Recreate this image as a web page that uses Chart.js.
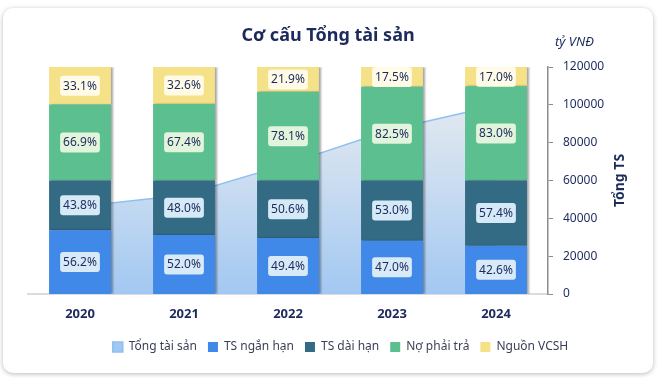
<!DOCTYPE html>
<html lang="vi">
<head>
<meta charset="utf-8">
<title>Cơ cấu Tổng tài sản</title>
<script src="https://cdn.jsdelivr.net/npm/chart.js@4.4.1/dist/chart.umd.min.js"></script>
<style>
  html, body { margin: 0; padding: 0; background: #ffffff; }
  body { width: 662px; height: 378px; position: relative; overflow: hidden;
         font-family: "Noto Sans", "Open Sans", Arial, sans-serif; }
  .card { position: absolute; left: 3px; top: 8px; width: 650px; height: 365px;
          background: #fff; border-radius: 10px; box-shadow: 0 1px 5px rgba(0,0,0,0.28); }
  .title { position: absolute; left: 0; right: 0; top: 14px; text-align: center;
           font-weight: 700; font-size: 18px; color: #1c2a5c; }
  .unit { position: absolute; left: 552px; top: 24px; font-style: italic;
          font-size: 13px; color: #1c2a5c; }
  canvas { position: absolute; left: 0; top: 0; }
</style>
</head>
<body>
<div class="card">
  <canvas id="chart" width="650" height="365"></canvas>
  <div class="title">Cơ cấu Tổng tài sản</div>
  <div class="unit">tỷ VNĐ</div>
</div>
<script>
(function () {
  // Data ------------------------------------------------------------------
  var years = ["2020", "2021", "2022", "2023", "2024"];
  var tongTaiSan = [46200, 52300, 68800, 87100, 99700];   // tỷ VNĐ (right axis)
  var tsNganHan = [56.2, 52.0, 49.4, 47.0, 42.6];
  var tsDaiHan  = [43.8, 48.0, 50.6, 53.0, 57.4];
  var noPhaiTra = [66.9, 67.4, 78.1, 82.5, 83.0];
  var nguonVCSH = [33.1, 32.6, 21.9, 17.5, 17.0];
  var rightTicks = [0, 20000, 40000, 60000, 80000, 100000, 120000];

  var NAVY = "#1c2a5c";
  var FONT = "'Noto Sans', 'Open Sans', Arial, sans-serif";
  Chart.defaults.font.family = FONT;

  function areaFill(c) {
    var ca = c.chart.chartArea;
    if (!ca) return "#a9cdf3";
    var g = c.chart.ctx.createLinearGradient(0, ca.top + 30, 0, ca.bottom);
    g.addColorStop(0, "#e4e9ef");
    g.addColorStop(0.45, "#c9dcf1");
    g.addColorStop(1, "#a2c8f2");
    return g;
  }

  // bar shadow on the right side ----------------------------------------
  var barShadow = {
    id: "barShadow",
    beforeDatasetDraw: function (chart, args) {
      if (chart.data.datasets[args.index].type !== "bar") return;
      var ctx = chart.ctx;
      ctx.save();
      ctx.shadowColor = "rgba(0,0,0,0.35)";
      ctx.shadowOffsetX = 2;
      ctx.shadowOffsetY = 0;
      ctx.shadowBlur = 2;
    },
    afterDatasetDraw: function (chart, args) {
      if (chart.data.datasets[args.index].type !== "bar") return;
      chart.ctx.restore();
    }
  };

  // boxed value labels ---------------------------------------------------
  function roundRect(ctx, x, y, w, h, r) {
    ctx.beginPath();
    ctx.moveTo(x + r, y);
    ctx.lineTo(x + w - r, y); ctx.quadraticCurveTo(x + w, y, x + w, y + r);
    ctx.lineTo(x + w, y + h - r); ctx.quadraticCurveTo(x + w, y + h, x + w - r, y + h);
    ctx.lineTo(x + r, y + h); ctx.quadraticCurveTo(x, y + h, x, y + h - r);
    ctx.lineTo(x, y + r); ctx.quadraticCurveTo(x, y, x + r, y);
    ctx.closePath();
  }
  var boxLabels = {
    id: "boxLabels",
    afterDatasetsDraw: function (chart) {
      var ctx = chart.ctx;
      ctx.save();
      ctx.font = "12px " + FONT;
      ctx.textAlign = "center";
      ctx.textBaseline = "middle";
      chart.data.datasets.forEach(function (ds, i) {
        if (ds.type !== "bar") return;
        var meta = chart.getDatasetMeta(i);
        meta.data.forEach(function (el, j) {
          var txt = ds.data[j].toFixed(1) + "%";
          var cy = (el.y + el.base) / 2;
          var w = ctx.measureText(txt).width + 6, h = 20;
          ctx.fillStyle = ds.labelBg;
          roundRect(ctx, el.x - w / 2, cy - h / 2, w, h, 3);
          ctx.fill();
          ctx.fillStyle = NAVY;
          ctx.fillText(txt, el.x, cy + 0.5);
        });
      });
      ctx.restore();
    }
  };

  // right axis title, reading bottom to top ------------------------------
  var axisTitle = {
    id: "axisTitle",
    afterDraw: function (chart) {
      var ctx = chart.ctx, a = chart.chartArea;
      ctx.save();
      ctx.translate(617, (a.top + a.bottom) / 2);
      ctx.rotate(-Math.PI / 2);
      ctx.font = "bold 14px " + FONT;
      ctx.fillStyle = NAVY;
      ctx.textAlign = "center";
      ctx.textBaseline = "middle";
      ctx.fillText("Tổng TS", 0, 0);
      ctx.restore();
    }
  };

  function bar(label, data, color, labelBg) {
    return { type: "bar", label: label, data: data, backgroundColor: color,
             labelBg: labelBg, yAxisID: "y", stack: "s", order: 1,
             categoryPercentage: 1, barPercentage: 0.595, borderWidth: 0 };
  }

  new Chart(document.getElementById("chart"), {
    data: {
      labels: years,
      datasets: [
        { type: "line", label: "Tổng tài sản", data: tongTaiSan, yAxisID: "y1",
          borderColor: "#90bff2", borderWidth: 1.5, backgroundColor: areaFill,
          fill: "origin", pointRadius: 0, tension: 0, order: 5 },
        bar("TS ngắn hạn", tsNganHan, "#4189e8", "#d8e9f8"),
        bar("TS dài hạn", tsDaiHan, "#336a84", "#d6e9f6"),
        bar("Nợ phải trả", noPhaiTra, "#5bbf8f", "#e2f4dc"),
        bar("Nguồn VCSH", nguonVCSH, "#f4e188", "#fffbe7")
      ]
    },
    options: {
      responsive: false,
      animation: false,
      layout: { padding: { top: 59, left: 25, right: 0, bottom: 10 } },
      scales: {
        x: {
          stacked: true,
          grid: { display: false, drawTicks: false },
          border: { display: true, color: "#dcdcdc", width: 2 },
          ticks: { color: NAVY, padding: 12, font: { size: 13, weight: "bold" } },
          afterFit: function (s) { s.height = 36; }
        },
        y: { stacked: true, display: false, min: 0, max: 200 },
        y1: {
          position: "right", min: 0, max: 120000,
          grid: { drawOnChartArea: false, color: "#8c8c8c", tickLength: 5 },
          border: { color: "#8c8c8c", width: 1.5 },
          afterBuildTicks: function (s) { s.ticks = rightTicks.map(function (v) { return { value: v }; }); },
          ticks: { color: NAVY, padding: 10, font: { size: 12 },
                   callback: function (v) { return String(v); } },
          afterFit: function (s) { s.width = 105; }
        }
      },
      plugins: {
        legend: {
          position: "bottom",
          labels: {
            boxWidth: 10, boxHeight: 10, padding: 11, color: "#3a3f55",
            font: { size: 12 },
            sort: function (a, b) { return a.datasetIndex - b.datasetIndex; }
          }
        },
        tooltip: { enabled: false }
      }
    },
    plugins: [barShadow, boxLabels, axisTitle]
  });
})();
</script>
</body>
</html>
